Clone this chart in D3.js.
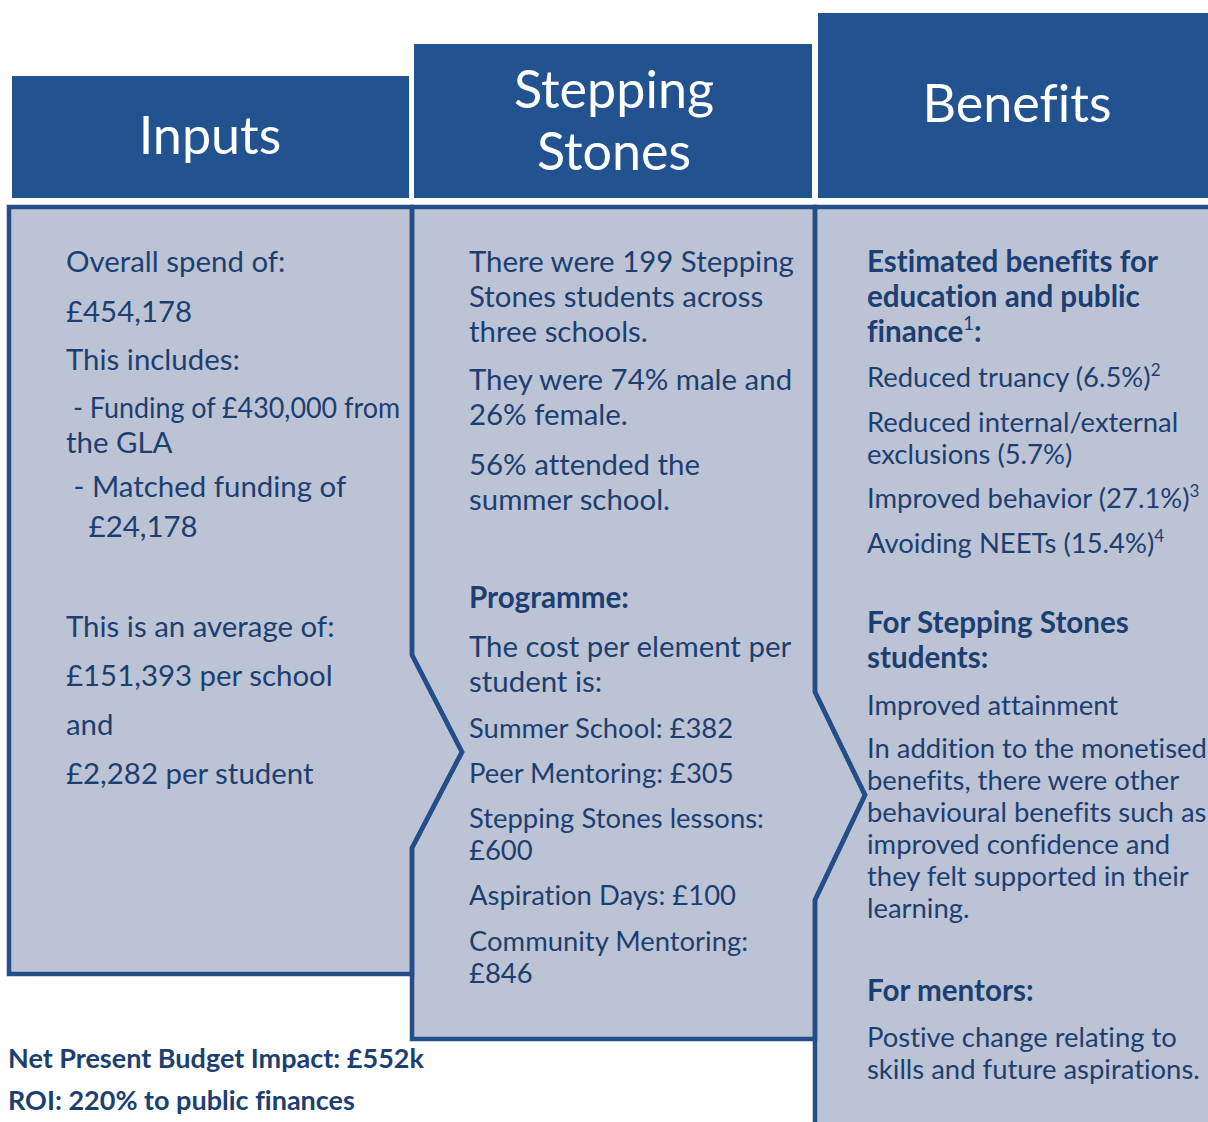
<!DOCTYPE html>
<html>
<head>
<meta charset="utf-8">
<script src="https://cdn.jsdelivr.net/npm/d3@7"></script>
<style>
  body { margin: 0; background: #fff; }
  text { white-space: pre; font-variant-ligatures: none; }
</style>
</head>
<body>
<script type="text/javascript">

// ---- content ----
var headers = ["Inputs", ["Stepping", "Stones"], "Benefits"];

var inputsText = [
  ["Overall spend of:"],
  ["£454,178"],
  ["This includes:"],
  [" - Funding of £430,000 from", "the GLA"],
  [" - Matched funding of"],
  ["   £24,178"],
  ["This is an average of:"],
  ["£151,393 per school"],
  ["and"],
  ["£2,282 per student"]
];
var inputsKinds = ["body", "body", "body", "body", "body", "body", "body", "body", "body", "body"];

var steppingText = [
  ["There were 199 Stepping", "Stones students across", "three schools."],
  ["They were 74% male and", "26% female."],
  ["56% attended the", "summer school."],
  ["Programme:"],
  ["The cost per element per", "student is:"],
  ["Summer School: £382"],
  ["Peer Mentoring: £305"],
  ["Stepping Stones lessons:", "£600"],
  ["Aspiration Days: £100"],
  ["Community Mentoring:", "£846"]
];
var steppingKinds = ["body", "body", "body", "bold", "body", "small", "small", "small", "small", "small"];

var benefitsText = [
  ["Estimated benefits for", "education and public", "finance^1:"],
  ["Reduced truancy (6.5%)^2"],
  ["Reduced internal/external", "exclusions (5.7%)"],
  ["Improved behavior (27.1%)^3"],
  ["Avoiding NEETs (15.4%)^4"],
  ["For Stepping Stones", "students:"],
  ["Improved attainment"],
  ["In addition to the monetised", "benefits, there were other", "behavioural benefits such as",
   "improved confidence and", "they felt supported in their", "learning."],
  ["For mentors:"],
  ["Postive change relating to", "skills and future aspirations."]
];
var benefitsKinds = ["bold", "small", "small", "small", "small", "bold", "small", "small", "bold", "small"];

var summaryText = ["Net Present Budget Impact: £552k", "ROI: 220% to public finances"];

// ---- layout (baselines of each paragraph) ----
var inputsY = [272, 322, 370, 418, 497, 537, 637, 686, 735, 784];
var steppingY = [272, 390, 475, 608, 657, 738, 783, 828, 905, 951];
var benefitsY = [272, 387, 432, 508, 553, 633, 715, 758, 1001, 1047];
var summaryY = [1068, 1110];

var W = 1208, H = 1122;
var FONT = "Lato, 'Open Sans', sans-serif";
var HEAD = "#22528f", PANEL = "#bcc3d4", EDGE = "#234e8a", INK = "#1c3f72";

var svg = d3.select("body").append("svg")
    .attr("width", W)
    .attr("height", H)
    .style("font-family", FONT);

// pick a font size so that a sample string gets the width seen in the picture
var fitSize = function(sample, target, weight) {
    var t = svg.append("text")
        .attr("font-size", 100)
        .attr("font-weight", weight)
        .text(sample);
    var w = t.node().getComputedTextLength();
    t.remove();
    return 100 * target / w;
};

var sizes = {
    body:  fitSize("There were 199 Stepping", 325, 400),
    small: fitSize("In addition to the monetised", 340, 400),
    bold:  fitSize("Estimated benefits for", 291, 700),
    sum:   fitSize("Net Present Budget Impact: £552k", 416, 700),
    head:  fitSize("Benefits", 189, 400)
};
var lineH = { body: 35, small: 32, bold: 35 };
var weights = { body: 400, small: 400, bold: 700 };

// ---- header boxes ----
var headBoxes = [
    { x: 12, y: 76, w: 397, h: 122 },
    { x: 414, y: 44, w: 398, h: 154 },
    { x: 818, y: 13, w: 400, h: 185 }
];
svg.selectAll("rect.head")
    .data(headBoxes)
    .enter().append("rect")
    .attr("class", "head")
    .attr("x", function(d){ return d.x })
    .attr("y", function(d){ return d.y })
    .attr("width", function(d){ return d.w })
    .attr("height", function(d){ return d.h })
    .attr("fill", HEAD);

var headPos = [[210, [154]], [614, [108, 170]], [1017, [122]]];
headers.forEach(function(h, i) {
    var lines = typeof h === "string" ? [h] : h;
    svg.selectAll(null)
        .data(lines)
        .enter().append("text")
        .attr("x", headPos[i][0])
        .attr("y", function(d, j){ return headPos[i][1][j] })
        .attr("text-anchor", "middle")
        .attr("font-size", sizes.head)
        .attr("fill", "#fff")
        .text(function(d){ return d });
});

// ---- panels ----
var panelTop = 207;
var panels = [
    [[9, panelTop], [412, panelTop], [412, 655], [462, 752], [412, 848], [412, 974], [9, 974]],
    [[412, panelTop], [815, panelTop], [815, 692], [865, 795], [815, 900], [815, 1039], [412, 1039],
     [412, 848], [462, 752], [412, 655]],
    [[815, panelTop], [1215, panelTop], [1215, 1130], [815, 1130], [815, 900], [865, 795], [815, 692]]
];
var line = d3.line();
svg.selectAll("path.panel")
    .data(panels)
    .enter().append("path")
    .attr("class", "panel")
    .attr("d", function(d){ return line(d) + "Z" })
    .attr("fill", PANEL);
svg.selectAll("path.edge")
    .data(panels)
    .enter().append("path")
    .attr("class", "edge")
    .attr("d", function(d){ return line(d) + "Z" })
    .attr("fill", "none")
    .attr("stroke", EDGE)
    .attr("stroke-width", 4.5)
    .attr("stroke-linejoin", "miter");

// ---- text columns ----
var drawColumn = function(paras, kinds, ys, x, maxRight) {
    var g = svg.append("g");
    paras.forEach(function(lines, i) {
        var k = kinds[i];
        var fs = sizes[k];
        lines.forEach(function(str, j) {
            var t = g.append("text")
                .attr("x", x)
                .attr("y", ys[i] + j * lineH[k])
                .attr("font-size", fs)
                .attr("font-weight", weights[k])
                .attr("fill", INK);
            // "^n" marks a footnote number
            var parts = str.split(/\^(\d)/);
            parts.forEach(function(p, n) {
                if (p === "") return;
                if (n % 2 === 1) {
                    t.append("tspan")
                        .attr("dy", -fs * 0.4)
                        .attr("font-size", fs * 0.62)
                        .attr("font-weight", 400)
                        .text(p);
                } else {
                    var ts = t.append("tspan").text(p);
                    if (n > 0) ts.attr("dy", fs * 0.4);
                }
            });
            // squeeze a line that would run over the panel edge
            var w = t.node().getComputedTextLength();
            if (x + w > maxRight) {
                t.attr("textLength", maxRight - x).attr("lengthAdjust", "spacingAndGlyphs");
            }
        });
    });
};

drawColumn(inputsText, inputsKinds, inputsY, 66, 400);
drawColumn(steppingText, steppingKinds, steppingY, 469, 800);
drawColumn(benefitsText, benefitsKinds, benefitsY, 867, 1208);

svg.selectAll("text.sum")
    .data(summaryText)
    .enter().append("text")
    .attr("class", "sum")
    .attr("x", 8)
    .attr("y", function(d, i){ return summaryY[i] })
    .attr("font-size", sizes.sum)
    .attr("font-weight", 700)
    .attr("fill", INK)
    .text(function(d){ return d });

</script>
</body>
</html>
